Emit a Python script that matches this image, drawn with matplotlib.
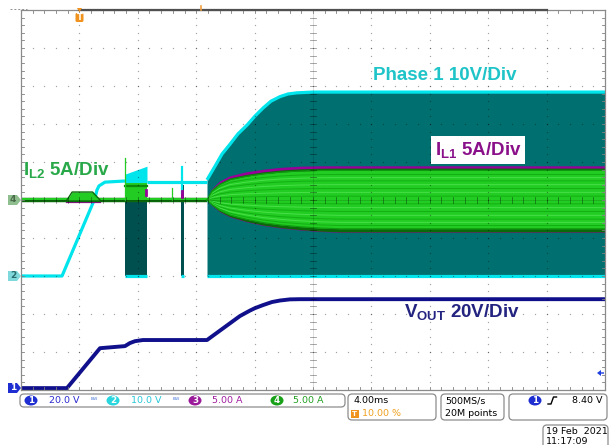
import numpy as np
import matplotlib
matplotlib.use("Agg")
import matplotlib.pyplot as plt
import matplotlib.transforms as mtransforms
from matplotlib.patches import FancyBboxPatch, Polygon, Ellipse, Rectangle
from matplotlib.lines import Line2D

W, H, DPI = 611, 445, 100

# ---- scope setup ----
T_DIV = 4.0          # ms/div
T_LEFT = -4.0        # trigger position 10 % of record
CH1_VDIV, CH1_POS = 20.0, -4.95   # VOUT
CH2_VDIV, CH2_POS = 10.0, -2.0    # Phase 1 switch node
CH3_ADIV, CH3_POS = 5.0, 0.0      # IL1
CH4_ADIV, CH4_POS = 5.0, 0.0      # IL2

# ---- CH1: output voltage (V) ----
vout_t = [-4.0, -0.85, 1.41, 3.12, 3.46, 3.81, 4.35, 8.74, 10.99, 11.68, 12.03, 12.58,
          13.19, 13.74, 14.42, 15.10, 36.0]
vout_v = [0.0, 0.0, 21.0, 22.1, 23.7, 24.7, 25.3, 25.3, 37.9, 40.8, 42.1, 43.7,
          45.3, 46.1, 46.7, 46.8, 46.8]

# ---- CH2: phase 1 node (V) ----
ph_pre_t = [-4.0, -1.19, 1.07, 1.20, 1.34, 1.75, 3.12]
ph_pre_v = [0.0, 0.0, 20.5, 22.6, 23.7, 24.7, 25.0]
ph_burst1_t = [3.12, 4.63]
ph_burst1_top = [26.8, 28.9]
ph_burst1_high = 24.5
ph_mid_t = [4.63, 8.74]
ph_mid_v = [24.7, 24.7]
ph_burst2_t = [6.96, 7.16]
ph_burst2_high = 24.0
ph_spike_t = 7.03
ph_spike_v = [21.8, 28.7]
ph_env_t = [8.74, 9.29, 9.77, 10.32, 10.86, 11.48, 12.03, 12.58, 13.12, 13.74, 14.29,
            14.90, 16.0, 36.0]
ph_env_top = [25.3, 28.9, 32.1, 34.7, 37.4, 39.7, 42.1, 44.2, 46.0, 47.2, 47.9,
              48.2, 48.4, 48.4]

# ---- CH4: IL2 (A) ----
il2_base_t = [-4.0, 8.74]
il2_base_a = [0.0, 0.0]
il2_bump_t = [-0.85, -0.5, 0.9, 1.41]
il2_bump_a = [0.0, 1.05, 1.05, 0.0]
il2_burst_t = [3.12, 4.63]
il2_burst_a = 2.2
il2_spikes_t = [3.14, 6.34]
il2_spikes_a = [5.5, 1.6]

# ---- CH3: IL1 (A) ----
il1_pre_t = [-0.85, 1.41]
il1_pre_a = [-0.25, -0.25]
il1_marks_t = [4.56, 7.03]
il1_marks_lo = [0.65, 0.4]
il1_marks_hi = [1.3, 1.2]

# ---- switching envelopes (A) ----
env_t = [8.74, 9.08, 9.6, 10.32, 11.4, 12.58, 13.8, 15.10, 16.5, 17.84, 36.0]
il2_top = [0.0, 1.3, 2.2, 2.9, 3.35, 3.7, 3.95, 4.1, 4.18, 4.2, 4.2]
il2_bot = [0.0, -0.7, -1.5, -2.2, -2.8, -3.3, -3.65, -3.9, -4.1, -4.2, -4.2]
il1_top = [0.0, 1.5, 2.5, 3.2, 3.7, 4.05, 4.3, 4.45, 4.5, 4.5, 4.5]
il1_bot = [0.0, -0.75, -1.55, -2.25, -2.85, -3.35, -3.7, -3.95, -4.15, -4.25, -4.25]

# ---- colours ----
TEAL = "#006f6f"
TEAL_DK = "#005050"
CYAN = "#00e4ec"
GREEN = "#22cc22"
GREEN_DK = "#0a6a0a"
MAGENTA = "#990099"
NAVY = "#10108c"


def d1(v):
    return np.asarray(v, float) / CH1_VDIV + CH1_POS


def d2(v):
    return np.asarray(v, float) / CH2_VDIV + CH2_POS


def d3(v):
    return np.asarray(v, float) / CH3_ADIV + CH3_POS


def d4(v):
    return np.asarray(v, float) / CH4_ADIV + CH4_POS


fig = plt.figure(figsize=(W / DPI, H / DPI), dpi=DPI)
fig.patch.set_facecolor("white")
L, R, T, B = 21, 605, 10, 390
ax = fig.add_axes([L / W, 1 - B / H, (R - L) / W, (B - T) / H])
ax.set_xlim(T_LEFT, T_LEFT + 10 * T_DIV)
ax.set_ylim(-5, 5)
ax.axis("off")

pix = mtransforms.Affine2D().scale(1 / DPI) + fig.dpi_scale_trans
PX_T = T_DIV / 58.4      # ms per pixel
PX_D = 1 / 38.0          # div per pixel

# ---------- CH2 phase node ----------
ax.fill_between(ph_env_t, d2(0), d2(ph_env_top), color=TEAL, lw=0, zorder=2)
ax.fill_between(ph_burst1_t, d2(0), d2(ph_burst1_high), color=TEAL_DK, lw=0, zorder=2)
ax.fill_between(ph_burst2_t, d2(0), d2(ph_burst2_high), color=TEAL_DK, lw=0, zorder=2)
ax.fill_between(ph_burst1_t, d2(ph_burst1_high), d2(ph_burst1_top), color=CYAN, lw=0, zorder=3)
cy = dict(color=CYAN, lw=2.3, solid_capstyle="butt", solid_joinstyle="round", zorder=3)
ax.plot(ph_pre_t, d2(ph_pre_v), **cy)
ax.plot(ph_mid_t, d2(ph_mid_v), **cy)
ax.plot(ph_env_t, d2(ph_env_top), **cy)
for seg in (ph_burst1_t, ph_burst2_t, [ph_env_t[0], ph_env_t[-1]]):
    ax.plot(seg, d2([0, 0]), **cy)
ax.plot([ph_spike_t, ph_spike_t], d2(ph_spike_v), color=CYAN, lw=1.6, zorder=3)

# ---------- CH3 IL1 ----------
ax.plot(il1_pre_t, d3(il1_pre_a), color=MAGENTA, lw=1.6, zorder=4)
for t0, lo, hi in zip(il1_marks_t, il1_marks_lo, il1_marks_hi):
    ax.plot([t0, t0], d3([lo, hi]), color=MAGENTA, lw=2.0, zorder=6)
ax.fill_between(env_t, d3(il1_bot), d3(il1_top), color=MAGENTA, lw=0, zorder=4)

# ---------- CH4 IL2 ----------
ax.plot(il2_base_t, d4(il2_base_a), color=GREEN_DK, lw=3.2, zorder=5, solid_capstyle="butt")
ax.plot(il2_base_t, d4(il2_base_a) + 0.02, color=GREEN, lw=1.5, zorder=5, solid_capstyle="butt")
ax.fill_between(il2_bump_t, d4(0), d4(il2_bump_a), color=GREEN, lw=0, zorder=5)
ax.plot(il2_bump_t, d4(il2_bump_a), color=GREEN_DK, lw=1.0, zorder=5)
ax.fill_between(il2_burst_t, d4(0), d4(il2_burst_a), color=GREEN, lw=0, zorder=5)
ax.plot(il2_burst_t, d4([il2_burst_a] * 2) - 0.06, color="#0c8a0c", lw=1.6, zorder=5)
for t0, a in zip(il2_spikes_t, il2_spikes_a):
    ax.plot([t0, t0], d4([0, a]), color=GREEN, lw=0.9, zorder=5)

top = np.asarray(il2_top)
bot = np.asarray(il2_bot)
ax.fill_between(env_t, d4(bot), d4(top), color=GREEN_DK, lw=0, zorder=5)
ax.fill_between(env_t, d4(bot * 0.90), d4(top * 0.93), color=GREEN, lw=0, zorder=5)
stripe_cols = ["#12b012", "#48e048"]
for i, f in enumerate([0.12, 0.24, 0.36, 0.48, 0.6, 0.7, 0.8]):
    c = stripe_cols[i % 2]
    ax.plot(env_t, d4(top * f), color=c, lw=0.7, zorder=5)
    ax.plot(env_t, d4(bot * f), color=c, lw=0.7, zorder=5)
ax.plot(env_t, d4(top * 0.93), color="#0f9a0f", lw=0.8, zorder=5)
ax.plot(env_t, d4(bot * 0.90), color="#0f9a0f", lw=0.8, zorder=5)

# ---------- CH1 VOUT ----------
ax.plot(vout_t, d1(vout_v), color=NAVY, lw=2.8, zorder=6,
        solid_joinstyle="round", solid_capstyle="butt")

# ---------- graticule ----------
x_major = T_LEFT + T_DIV * np.arange(11)
y_major = np.arange(-5, 6)
gcol = (0, 0, 0, 0.36)
ys_minor = np.arange(-5, 5.001, 0.2)
xs_minor = T_LEFT + np.arange(0, 10.001, 0.2) * T_DIV
for xm in x_major[1:-1]:
    if abs(xm - 16.0) < 1e-6:
        continue
    ax.scatter(np.full_like(ys_minor, xm), ys_minor, s=0.9, color=gcol, lw=0, zorder=8)
for ym in y_major[1:-1]:
    if ym == 0:
        continue
    ax.scatter(xs_minor, np.full_like(xs_minor, ym), s=0.9, color=gcol, lw=0, zorder=8)

# centre crosshair with minor ticks
ax.plot([T_LEFT, T_LEFT + 10 * T_DIV], [0, 0], color=(0, 0, 0, 0.15), lw=0.6, zorder=8)
ax.plot([16.0, 16.0], [-5, 5], color=(0, 0, 0, 0.15), lw=0.6, zorder=8)
tick_h = 3 * PX_D
tick_w = 3 * PX_T
for xm in xs_minor:
    ax.plot([xm, xm], [-tick_h, tick_h], color=(0, 0, 0, 0.4), lw=0.6, zorder=8)
    ax.plot([xm, xm], [-5, -5 + tick_h], color="#808080", lw=0.6, zorder=8)
    ax.plot([xm, xm], [5, 5 - tick_h], color="#808080", lw=0.6, zorder=8)
for ym in ys_minor:
    ax.plot([16 - tick_w, 16 + tick_w], [ym, ym], color=(0, 0, 0, 0.4), lw=0.6, zorder=8)
    ax.plot([T_LEFT, T_LEFT + tick_w], [ym, ym], color="#808080", lw=0.6, zorder=8)
    ax.plot([36 - tick_w, 36], [ym, ym], color="#808080", lw=0.6, zorder=8)

# frame
fr = dict(color="#8a8a8a", lw=0.9, zorder=9, clip_on=False)
ax.plot([T_LEFT, T_LEFT], [-5, 5], **fr)
ax.plot([36, 36], [-5, 5], **fr)
ax.plot([T_LEFT, 36], [-5, -5], **fr)
ax.plot([T_LEFT, 36], [5, 5], **fr)
ax.add_line(Line2D([79.4, 546.6], [H - 9.5, H - 9.5], transform=pix, color="#505050",
                   lw=1.6, zorder=10, clip_on=False))
ax.add_line(Line2D([10, 27], [H - 9, H - 9], transform=pix, color="#909090",
                   lw=0.7, ls=(0, (2, 2)), clip_on=False))

# ---------- trace labels ----------
plt.rcParams["mathtext.fontset"] = "custom"
plt.rcParams["mathtext.rm"] = "Liberation Sans:bold"
plt.rcParams["mathtext.it"] = "Liberation Sans:bold"
plt.rcParams["mathtext.bf"] = "Liberation Sans:bold"
lab = dict(family="Liberation Sans", weight="bold", fontsize=13.5, transform=pix,
           va="center", ha="left", zorder=12)
ax.text(373, H - 76, "Phase 1 10V/Div", color="#1ec4c8", **lab)
ax.text(23, H - 170, r"$\mathrm{I_{L2}}$ 5A/Div", color="#28a848", **lab)
ax.text(435, H - 150, r"$\mathrm{I_{L1}}$ 5A/Div", color="#8a108a",
        bbox=dict(facecolor="white", edgecolor="none", pad=2.5), **lab)
ax.text(404, H - 312, r"$\mathrm{V_{OUT}}$ 20V/Div", color="#232380", **lab)

# ---------- channel markers ----------
def marker(yc, face, txt, tcol):
    pts = [(8, yc - 5), (17, yc - 5), (21, yc), (17, yc + 5), (8, yc + 5)]
    ax.add_patch(Polygon([(x, H - y) for x, y in pts], closed=True, transform=pix,
                         facecolor=face, edgecolor="none", clip_on=False, zorder=11))
    ax.text(13, H - yc, txt, transform=pix, ha="center", va="center", fontsize=6.5,
            color=tcol, weight="bold", zorder=12)


marker(200, "#8fbf8f", "4", "#4a6a4a")
marker(276, "#7fd8dc", "2", "#2a6a6a")
marker(388, "#1e2ed0", "1", "white")

# trigger level arrow on right
ax.add_patch(Polygon([(597, H - 373), (601, H - 370), (601, H - 372.3), (604, H - 372.3),
                      (604, H - 373.7), (601, H - 373.7), (601, H - 376)], transform=pix,
                     facecolor="#1e3ee0", edgecolor="none", clip_on=False, zorder=11))

# trigger position marker
ax.add_patch(FancyBboxPatch((75.5, H - 22), 8, 9, boxstyle="round,pad=0,rounding_size=1.5",
                            transform=pix, facecolor="#f0921e", edgecolor="none",
                            clip_on=False, zorder=11))
ax.text(79.5, H - 17.5, "T", transform=pix, ha="center", va="center", fontsize=6,
        color="white", weight="bold", zorder=12)
ax.add_patch(Polygon([(77, H - 8), (82, H - 8), (79.5, H - 12)], transform=pix,
                     facecolor="#f0921e", edgecolor="none", clip_on=False, zorder=11))
ax.add_line(Line2D([200.5, 200.5], [H - 6, H - 10], transform=pix, color="#f0a040",
                   lw=1.2, clip_on=False, zorder=11))

# ---------- status bar ----------
def rbox(x0, y0, x1, y1):
    fig.patches.append(FancyBboxPatch((x0, H - y1), x1 - x0, y1 - y0,
                                      boxstyle="round,pad=0,rounding_size=4",
                                      transform=pix, facecolor="white",
                                      edgecolor="#8c8c8c", lw=0.9))


def stxt(x, y, s, col="black", ha="left", size=6.8):
    fig.text(x, H - y, s, transform=pix, ha=ha, va="center", color=col,
             fontsize=size, family="DejaVu Sans")


def badge(x, y, txt, col):
    fig.patches.append(Ellipse((x, H - y), 13, 10, transform=pix, facecolor=col,
                               edgecolor="none"))
    fig.text(x, H - y - 0.3, txt, transform=pix, ha="center", va="center",
             color="white", fontsize=6.3, weight="bold")


rbox(20, 394, 345, 407)
rbox(348, 394, 436, 420)
rbox(441, 394, 504, 420)
rbox(509, 394, 607, 420)
rbox(543, 425, 608, 452)

ch_labels = [("1", "20.0 V", "#1e2ed0", "#2a2ad0", 31, 49),
             ("2", "10.0 V", "#2ad6de", "#28c8d8", 113, 131),
             ("3", "5.00 A", "#9a1a9a", "#a01ca0", 195, 212),
             ("4", "5.00 A", "#18a018", "#20a020", 277, 293)]
for num, txt, bc, tc, bx, tx in ch_labels:
    badge(bx, 400.5, num, bc)
    stxt(tx, 400.5, txt, tc)
for bwx in (94, 176):
    stxt(bwx, 400.5, "ᴮᵂ", "#4a7ad8", ha="center", size=5)

stxt(353, 400.5, "4.00ms")
fig.patches.append(Rectangle((351, H - 417.5), 7.5, 8, transform=pix,
                             facecolor="#f0921e", edgecolor="none"))
fig.text(354.8, H - 413.5, "T", transform=pix, ha="center", va="center",
         color="white", fontsize=5, weight="bold")
stxt(362, 413.5, "10.00 %", "#f0a020")
stxt(445, 400.5, "500MS/s")
stxt(445, 413.5, "20M points")
badge(535, 400.5, "1", "#1e2ed0")
fig.lines.append(Line2D([548, 551, 553.5, 556.5], [H - 404, H - 404, H - 397, H - 397],
                        transform=pix, color="black", lw=1.0))
stxt(603, 400.5, "8.40 V", ha="right")
stxt(546, 431, "19 Feb  2021")
stxt(546, 441.5, "11:17:09")

fig.savefig("out.png", dpi=DPI)
